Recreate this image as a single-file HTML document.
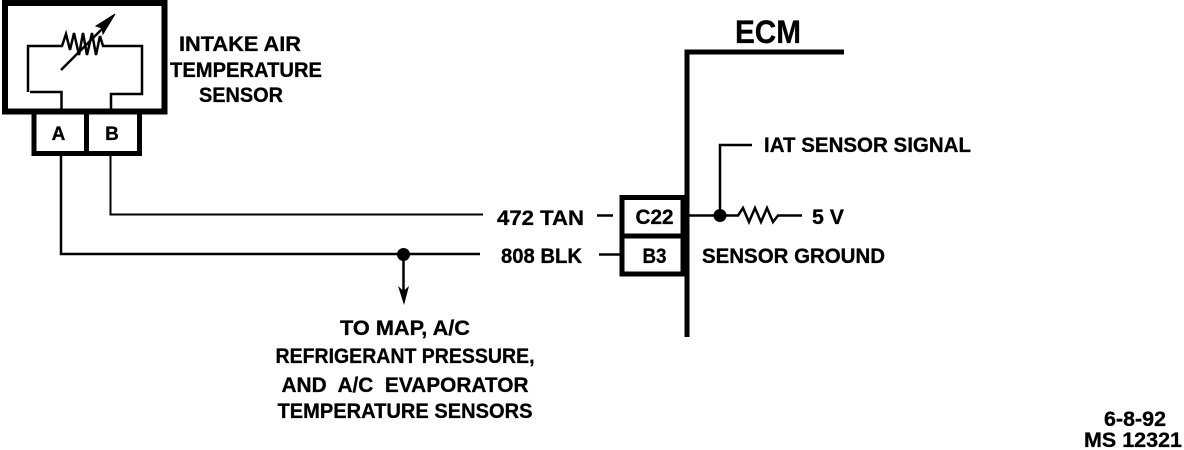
<!DOCTYPE html>
<html><head><meta charset="utf-8"><style>
html,body{margin:0;padding:0;background:#fff}
svg{display:block}
text{font-family:"Liberation Sans",sans-serif;font-weight:bold;fill:#000;font-size:21px;stroke:#000;stroke-width:.3}
</style></head><body>
<svg width="1184" height="450" viewBox="0 0 1184 450" xmlns="http://www.w3.org/2000/svg">
<g fill="none" stroke="#000" stroke-linejoin="miter">
<rect x="5" y="3" width="159.500" height="108.500" stroke-width="6"/>
<path d="M34 113V153.500H139.500V113M86.500 113V153" stroke-width="5"/>
<path d="M28 92V46H62L66 34L70 50L74 33L79 55L83 33L87 55L92 33L96 55L100 36L103 46H142V94H111V110" stroke-width="2.500"/>
<path d="M30 92H61.500V110" stroke-width="2.500"/>
<path d="M61 70L106 25" stroke-width="2.500"/>
<path d="M61 154V254H480" stroke-width="2.500"/>
<path d="M110.500 154V214.500H483" stroke-width="2"/>
<path d="M403.500 254V295" stroke-width="2.500"/>
<path d="M597 215.500H613M599 254.500H622" stroke-width="2.500"/>
<path d="M687 337V52H844" stroke-width="5"/>
<path d="M622 197.500H683V274H622ZM622 236H683" stroke-width="5"/>
<path d="M687 215.500H738L743 208L749 222L755 208L761 222L767 208L773 222L778 215.500H802" stroke-width="2.500"/>
<path d="M720 215V145H752" stroke-width="2.500"/>
</g>
<path d="M115 14L96 26L102 28L103 34Z" stroke="#000" stroke-width="1"/>
<circle cx="403.500" cy="254.500" r="6.500"/>
<circle cx="720" cy="215.500" r="6.500"/>
<path d="M398 286L403.500 291L409 286L404 305Z"/>

<text x="240" y="51" text-anchor="middle" textLength="122" lengthAdjust="spacingAndGlyphs">INTAKE  AIR</text>
<text x="246" y="77" text-anchor="middle" textLength="152" lengthAdjust="spacingAndGlyphs">TEMPERATURE</text>
<text x="241" y="102" text-anchor="middle" textLength="84" lengthAdjust="spacingAndGlyphs">SENSOR</text>
<text x="58.500" y="140" text-anchor="middle" style="font-size:19px">A</text>
<text x="112" y="140" text-anchor="middle" style="font-size:19px">B</text>
<text x="768" y="43" text-anchor="middle" textLength="66" lengthAdjust="spacingAndGlyphs" style="font-size:32px;font-weight:bold">ECM</text>
<text x="764" y="152" textLength="207" lengthAdjust="spacingAndGlyphs">IAT SENSOR SIGNAL</text>
<text x="497" y="225" textLength="87" lengthAdjust="spacingAndGlyphs">472 TAN</text>
<text x="501" y="263" textLength="81" lengthAdjust="spacingAndGlyphs">808 BLK</text>
<text x="654.500" y="224" text-anchor="middle" textLength="38" lengthAdjust="spacingAndGlyphs">C22</text>
<text x="654.500" y="263" text-anchor="middle" textLength="24" lengthAdjust="spacingAndGlyphs">B3</text>
<text x="812" y="224" textLength="32" lengthAdjust="spacingAndGlyphs">5 V</text>
<text x="702" y="263" textLength="183" lengthAdjust="spacingAndGlyphs">SENSOR GROUND</text>
<text x="405" y="335" text-anchor="middle" textLength="130" lengthAdjust="spacingAndGlyphs">TO MAP, A/C</text>
<text x="405" y="363" text-anchor="middle" textLength="259" lengthAdjust="spacingAndGlyphs">REFRIGERANT PRESSURE,</text>
<text x="405" y="392" text-anchor="middle" textLength="247" lengthAdjust="spacingAndGlyphs" xml:space="preserve">AND  A/C  EVAPORATOR</text>
<text x="405" y="418" text-anchor="middle" textLength="255" lengthAdjust="spacingAndGlyphs">TEMPERATURE SENSORS</text>
<text x="1135" y="426" text-anchor="middle" textLength="62" lengthAdjust="spacingAndGlyphs">6-8-92</text>
<text x="1133" y="447" text-anchor="middle" textLength="98" lengthAdjust="spacingAndGlyphs">MS 12321</text>
</svg>
</body></html>
